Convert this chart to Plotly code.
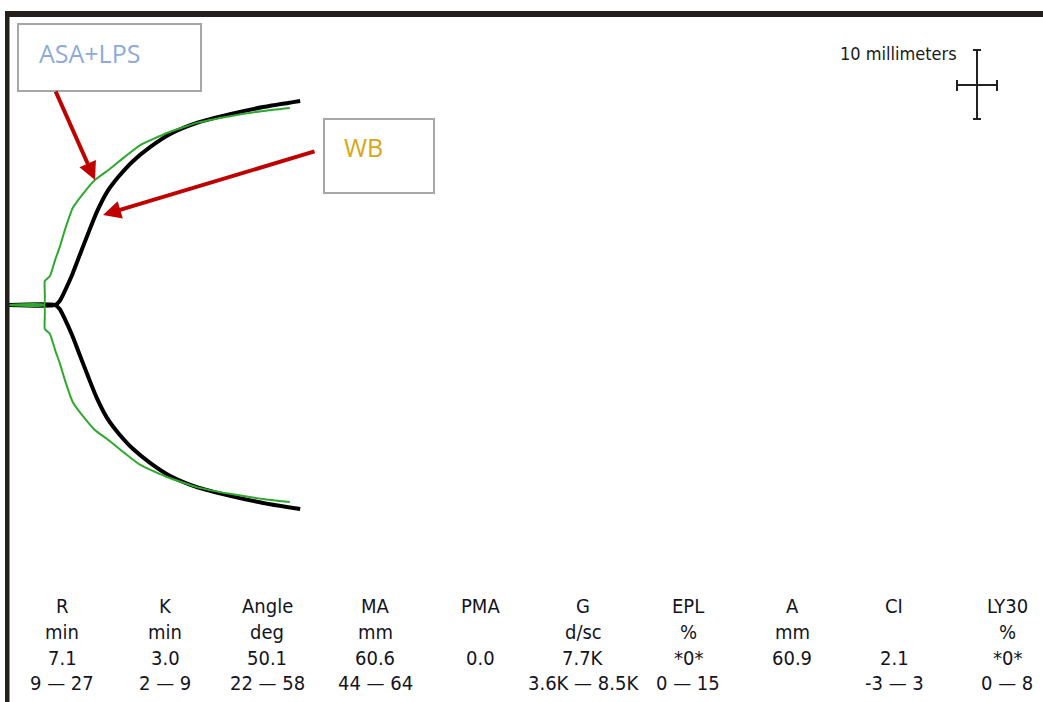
import plotly.graph_objects as go

W, H = 1043, 702

# Thromboelastography tracings: time (min) vs. full clot amplitude (mm)
wb_time = [0.0, 7.1, 7.8, 8.6, 9.7, 10.9, 12.2, 13.5, 15.1, 16.8, 19.1, 21.7, 24.8, 28.9, 34.0, 39.1, 44.8]
wb_amp = [0.0, 0.0, 1.2, 4.2, 8.9, 14.9, 21.4, 27.6, 33.6, 38.0, 42.8, 46.9, 50.8, 54.1, 56.7, 58.8, 60.6]

asa_time = [0.0, 5.4, 5.5, 6.3, 7.1, 7.8, 8.6, 9.8, 12.0, 13.2, 15.5, 17.8, 20.2, 24.3, 28.9, 34.0, 39.1, 43.2]
asa_amp = [0.0, 0.0, 7.1, 8.6, 13.4, 17.2, 22.3, 28.8, 34.5, 37.1, 40.4, 44.0, 47.5, 51.1, 54.1, 56.1, 57.6, 58.5]

# Parameter table
params = ["R", "K", "Angle", "MA", "PMA", "G", "EPL", "A", "CI", "LY30"]
units = ["min", "min", "deg", "mm", "", "d/sc", "%", "mm", "", "%"]
values = ["7.1", "3.0", "50.1", "60.6", "0.0", "7.7K", "*0*", "60.9", "2.1", "*0*"]
ranges = ["9 \u2014 27", "2 \u2014 9", "22 \u2014 58", "44 \u2014 64", "", "3.6K \u2014 8.5K",
          "0 \u2014 15", "", "-3 \u2014 3", "0 \u2014 8"]
col_x = [62, 165, 267, 375, 480, 583, 688, 792, 894, 1007]
row_y = [606, 632, 658, 683]

# axis geometry: trace origin and scale in screen pixels
X0_PX, Y0_PX = 9, 305
PX_PER_MIN = 6.5
PX_PER_MM = 408 / 60.6

NARROW = "DejaVu Sans Condensed, Liberation Sans Narrow, Arial Narrow, sans-serif"


def px(x):
    return x / W


def py(y):
    return 1 - y / H


def mirrored(t, a):
    xs = list(t) + [None] + list(t)
    ys = [v / 2 for v in a] + [None] + [-v / 2 for v in a]
    return xs, ys


fig = go.Figure()

bx, by = mirrored(wb_time, wb_amp)
fig.add_trace(go.Scatter(x=bx, y=by, mode="lines", name="WB",
                         line=dict(color="#000000", width=4, shape="spline", smoothing=0.6),
                         hoverinfo="skip"))
gx, gy = mirrored(asa_time, asa_amp)
fig.add_trace(go.Scatter(x=gx, y=gy, mode="lines", name="ASA+LPS",
                         line=dict(color="#2ea82e", width=2, shape="spline", smoothing=0.4),
                         hoverinfo="skip"))

x_range = [-X0_PX / PX_PER_MIN, (W - X0_PX) / PX_PER_MIN]
y_range = [-(H - Y0_PX) / PX_PER_MM, Y0_PX / PX_PER_MM]

frame_col = "#231f1a"
shapes = [
    # frame: top and left rules
    dict(type="rect", xref="paper", yref="paper", x0=px(5), x1=px(W), y0=py(17), y1=py(11),
         fillcolor=frame_col, line=dict(width=0)),
    dict(type="rect", xref="paper", yref="paper", x0=px(5), x1=px(9.5), y0=py(H), y1=py(11),
         fillcolor=frame_col, line=dict(width=0)),
    # label boxes
    dict(type="rect", xref="paper", yref="paper", x0=px(18), x1=px(201), y0=py(91), y1=py(24),
         fillcolor="white", line=dict(color="#a6a6a6", width=2)),
    dict(type="rect", xref="paper", yref="paper", x0=px(324), x1=px(434), y0=py(193), y1=py(119),
         fillcolor="white", line=dict(color="#a6a6a6", width=2)),
]

# 10 mm scale cross
sc = "#222222"
cx, cy = 977, 85
for (x0, y0, x1, y1) in [
    (cx, 50, cx, 119), (cx - 4, 50, cx + 4, 50), (cx - 4, 119, cx + 4, 119),
    (957, cy, 997, cy), (957, cy - 5, 957, cy + 6), (997, cy - 5, 997, cy + 6),
]:
    shapes.append(dict(type="line", xref="paper", yref="paper",
                       x0=px(x0), y0=py(y0), x1=px(x1), y1=py(y1),
                       line=dict(color=sc, width=2)))

annotations = [
    dict(text="ASA+LPS", xref="paper", yref="paper", x=px(37), y=py(53),
         xanchor="left", yanchor="middle", showarrow=False,
         font=dict(family="Open Sans, sans-serif", size=25, color="#8eaadb")),
    dict(text="WB", xref="paper", yref="paper", x=px(342), y=py(147),
         xanchor="left", yanchor="middle", showarrow=False,
         font=dict(family="Open Sans, sans-serif", size=25, color="#d9a514")),
    dict(text="10 millimeters", xref="paper", yref="paper", x=px(959), y=py(54),
         xanchor="right", yanchor="middle", showarrow=False,
         font=dict(family=NARROW, size=18, color="#1a1a24")),
    # red pointer arrows
    dict(x=(95 - X0_PX) / PX_PER_MIN, y=(Y0_PX - 180) / PX_PER_MM, xref="x", yref="y",
         ax=-40, ay=-90, showarrow=True, arrowhead=2, arrowsize=0.9, arrowwidth=4,
         arrowcolor="#c00000", standoff=0, text=""),
    dict(x=(103 - X0_PX) / PX_PER_MIN, y=(Y0_PX - 215) / PX_PER_MM, xref="x", yref="y",
         ax=213, ay=-64, showarrow=True, arrowhead=2, arrowsize=0.9, arrowwidth=4,
         arrowcolor="#c00000", standoff=0, text=""),
]

table_font = dict(family=NARROW, size=20, color="#14141e")
for i, cxp in enumerate(col_x):
    for row, yv in zip([params, units, values, ranges], row_y):
        if row[i]:
            annotations.append(dict(text=row[i], xref="paper", yref="paper",
                                    x=px(cxp), y=py(yv), xanchor="center", yanchor="middle",
                                    showarrow=False, font=table_font))

fig.update_layout(
    width=W, height=H, autosize=False,
    margin=dict(l=0, r=0, t=0, b=0, pad=0),
    paper_bgcolor="white", plot_bgcolor="white",
    showlegend=False,
    xaxis=dict(range=x_range, visible=False, showgrid=False, zeroline=False, fixedrange=True),
    yaxis=dict(range=y_range, visible=False, showgrid=False, zeroline=False, fixedrange=True),
    shapes=shapes,
    annotations=annotations,
)

fig.write_html("out.html")
